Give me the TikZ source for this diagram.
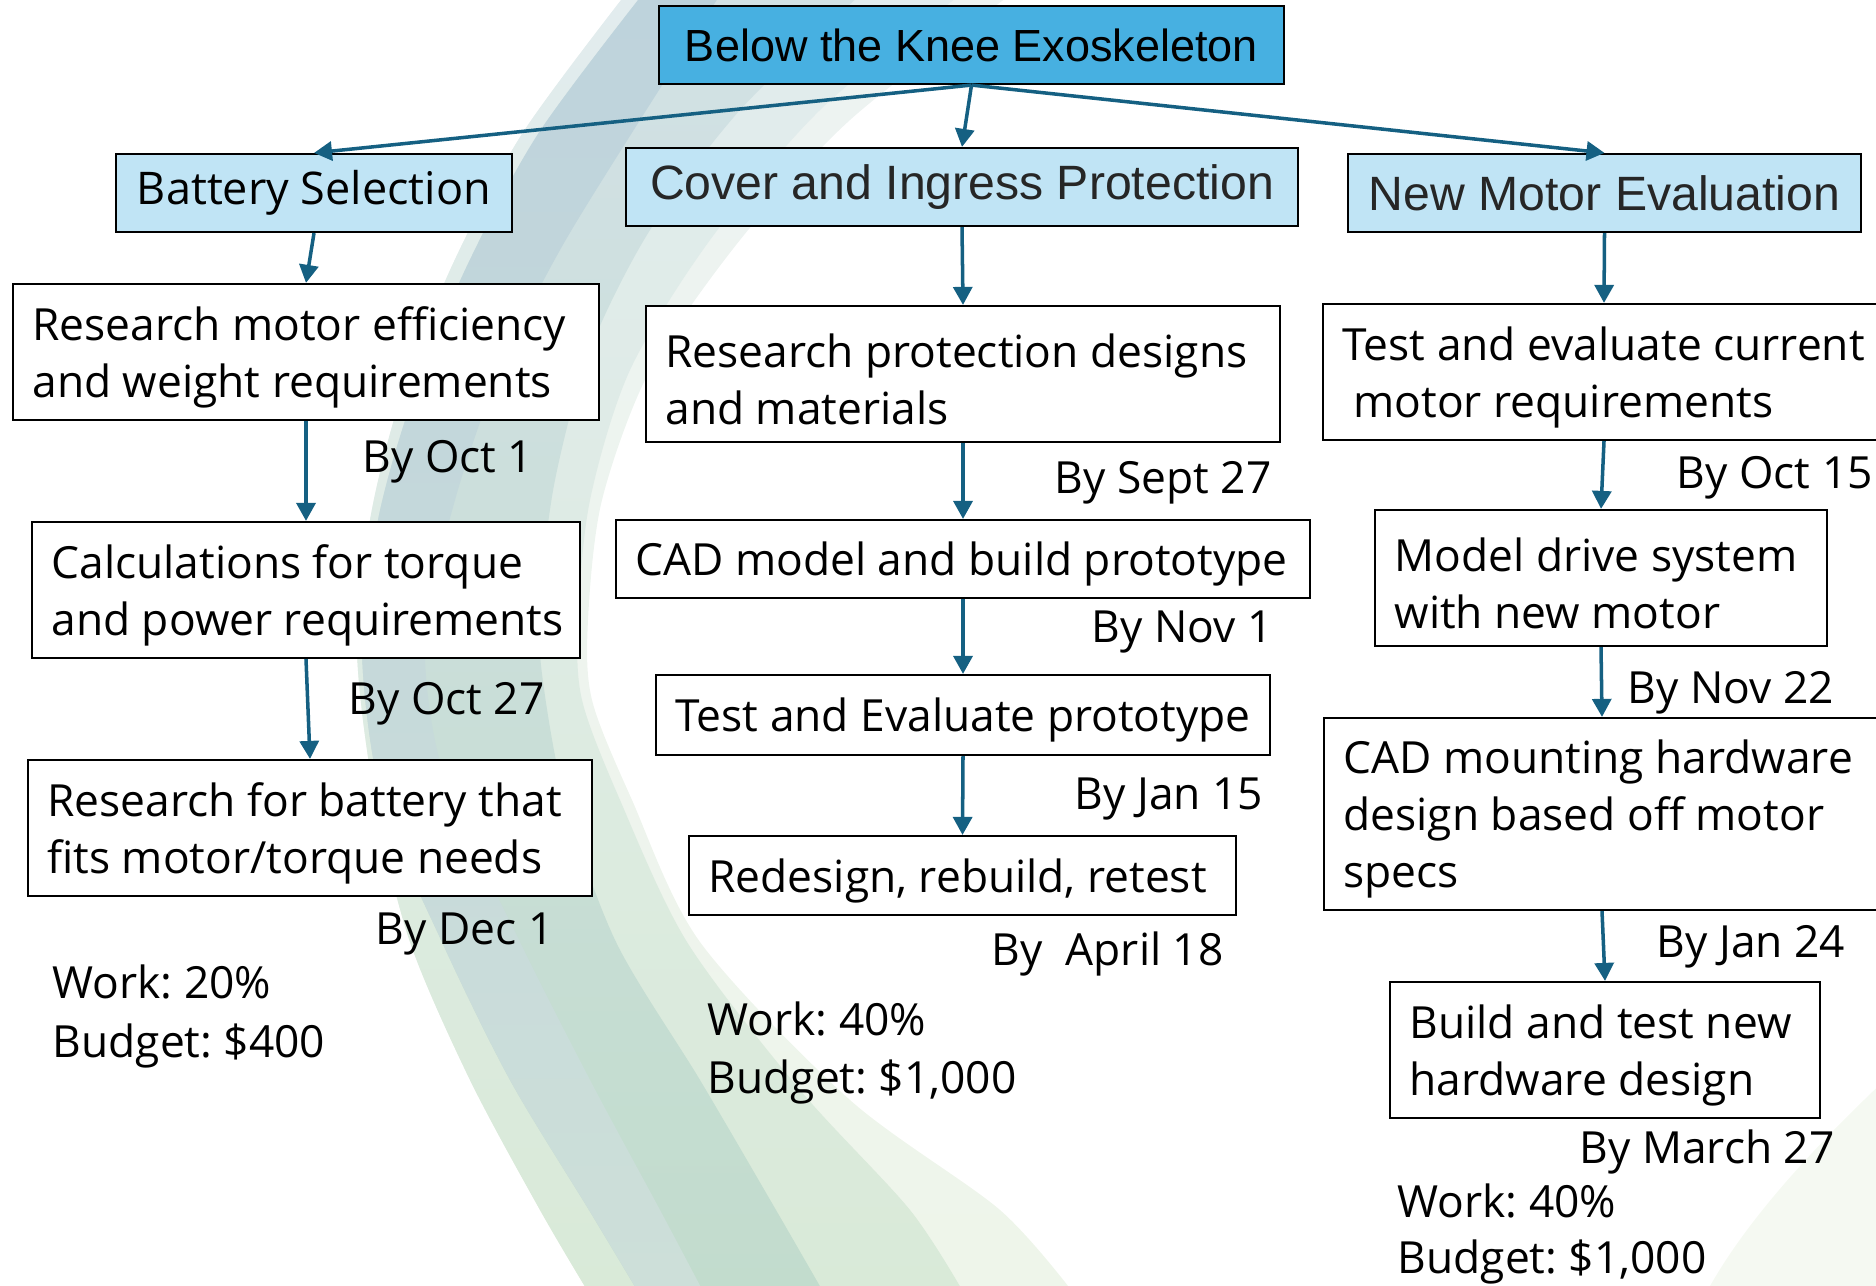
\documentclass[tikz,border=0pt]{standalone}
\usepackage{fontspec}
\setmainfont{Open Sans}
\newfontfamily\headfont{Liberation Sans}
\usetikzlibrary{arrows.meta}
\frenchspacing
\definecolor{linkblue}{RGB}{21,96,130}
\definecolor{rootblue}{RGB}{71,176,225}
\definecolor{groupblue}{RGB}{192,228,245}
% background wisp colours
\definecolor{wispA}{RGB}{237,243,242}
\definecolor{wispAb}{RGB}{238,245,234}
\definecolor{wispB}{RGB}{226,236,238}
\definecolor{wispBm}{RGB}{228,238,236}
\definecolor{wispBb}{RGB}{217,234,216}
\definecolor{wispC}{RGB}{210,225,229}
\definecolor{wispCm}{RGB}{211,227,226}
\definecolor{wispCb}{RGB}{194,220,205}
\definecolor{wispD}{RGB}{190,211,220}
\definecolor{wispDm}{RGB}{188,210,216}
\definecolor{wispDb}{RGB}{205,223,217}
\definecolor{wispF}{RGB}{245,249,242}
\newcommand{\taskfont}{\fontsize{12.6}{16.2}\selectfont}

\tikzset{
  root/.style={draw=black, line width=0.6pt, fill=rootblue, inner sep=0pt,
    minimum width=6.25cm, minimum height=0.78cm,
    font=\headfont\fontsize{12.8}{15}\selectfont},
  group/.style={draw=black, line width=0.6pt, fill=groupblue, inner sep=0pt,
    minimum height=0.78cm, text=black!85,
    font=\headfont\fontsize{13.7}{16}\selectfont},
  task/.style={draw=black, line width=0.6pt, fill=white, inner sep=0pt},
  tasktext/.style={anchor=west, align=left, inner xsep=0.2cm, inner ysep=0pt,
    yshift=-0.05cm, font=\taskfont},
  due/.style={anchor=base west, inner sep=0pt, font=\taskfont},
  link/.style={draw=linkblue, line width=1pt,
    -{Triangle[length=0.18cm,width=0.19cm]}},
}

\begin{document}
\begin{tikzpicture}[x=0.01cm,y=-0.01cm]
  \useasboundingbox (0,0) rectangle (1876,1285);

  % wisp in the background
  \shade[top color=wispA, bottom color=wispAb]
    plot[smooth] coordinates {(625,-5) (522,134) (451,268) (400,400) (370,520) (357,650) (375,800) (410,942) (470,1080) (540,1210) (590,1295)}
    -- plot[smooth] coordinates {(1075,1295) (1000,1210) (850,1100) (700,942) (632,800) (592,700) (588,620) (602,500) (650,370) (740,240) (850,120) (1010,-5)}
    -- cycle;
  \shade[top color=wispB, middle color=wispBm, bottom color=wispBb]
    plot[smooth] coordinates {(625,-5) (522,134) (451,268) (400,400) (370,520) (357,650) (375,800) (410,942) (470,1080) (540,1210) (590,1295)}
    -- plot[smooth] coordinates {(965,1295) (910,1210) (800,1090) (687,942) (620,800) (582,700) (578,620) (590,500) (630,370) (710,240) (820,110) (960,-5)}
    -- cycle;
  \shade[top color=wispC, middle color=wispCm, bottom color=wispCb]
    plot[smooth] coordinates {(642,-5) (538,134) (466,268) (412,400) (378,520) (362,650) (382,800) (442,942) (510,1080) (589,1210) (640,1295)}
    -- plot[smooth] coordinates {(825,1295) (776,1210) (700,1080) (616,942) (565,800) (542,674) (540,600) (555,480) (590,350) (650,230) (740,110) (860,-5)}
    -- cycle;
  \shade[top color=wispD, middle color=wispDm, bottom color=wispDb]
    plot[smooth] coordinates {(642,-5) (538,134) (466,268) (412,400) (378,520) (362,650) (382,800) (442,942) (510,1080) (589,1210) (640,1295)}
    -- plot[smooth] coordinates {(705,1295) (660,1210) (590,1080) (520,942) (445,780) (425,640) (455,500) (500,370) (560,250) (640,120) (720,-5)}
    -- cycle;
  \fill[wispF] (1890,1075) .. controls (1800,1160) and (1740,1230) .. (1705,1295) -- (1890,1295) -- cycle;

  % top of the tree
  \node[root] (knee) at (971.5,45) {Below the Knee Exoskeleton};
  \node[group, minimum width=3.96cm, text=black, font=\fontsize{12.8}{15}\selectfont] (bat) at (314,193) {Battery Selection};
  \node[group, minimum width=6.72cm] (cover) at (962,187) {Cover and Ingress Protection};
  \node[group, minimum width=5.13cm] (motor) at (1604.5,193) {New Motor Evaluation};

  % battery branch
  \node[task, minimum width=5.86cm, minimum height=1.36cm] (rme) at (306,352) {};
  \node[tasktext] (rme-t) at (rme.west) {Research motor efficiency\\and weight requirements};
  \node[task, minimum width=5.48cm, minimum height=1.36cm] (cpr) at (306,590) {};
  \node[tasktext] (cpr-t) at (cpr.west) {Calculations for torque\\and power requirements};
  \node[task, minimum width=5.64cm, minimum height=1.36cm] (rbt) at (310,828) {};
  \node[tasktext] (rbt-t) at (rbt.west) {Research for battery that\\fits motor/torque needs};

  \node[due] (d-rme) at (362,472) {By Oct 1};
  \node[due] (d-cpr) at (348,714) {By Oct 27};
  \node[due] (d-rbt) at (375,944) {By Dec 1};
  \node[due] (w-bat) at (52,998) {Work: 20\%};
  \node[due] (b-bat) at (52,1057) {Budget: \$400};

  % cover branch
  \node[task, minimum width=6.34cm, minimum height=1.36cm] (rpd) at (963,374) {};
  \node[tasktext] (rpd-t) at (rpd.west) {Research protection designs\\and materials};
  \node[task, minimum width=6.94cm, minimum height=0.78cm] (cad) at (963,559) {};
  \node[tasktext] (cad-t) at (cad.west) {CAD model and build prototype};
  \node[task, minimum width=6.14cm, minimum height=0.80cm] (tep) at (963,715) {};
  \node[tasktext] (tep-t) at (tep.west) {Test and Evaluate prototype};
  \node[task, minimum width=5.47cm, minimum height=0.79cm] (rrr) at (962.5,875.5) {};
  \node[tasktext] (rrr-t) at (rrr.west) {Redesign, rebuild, retest};

  \node[due] (d-rpd) at (1054,493) {By Sept 27};
  \node[due] (d-cad) at (1091,642) {By Nov 1};
  \node[due] (d-tep) at (1074,809) {By Jan 15};
  \node[due] (d-rrr) at (991,965) {By~~April 18};
  \node[due] (w-cov) at (707,1035) {Work: 40\%};
  \node[due] (b-cov) at (707,1093) {Budget: \$1,000};

  % motor branch
  \node[task, minimum width=5.62cm, minimum height=1.36cm] (tec) at (1604,372) {};
  \node[tasktext] (tec-t) at (tec.west) {Test and evaluate current\\\hspace*{0.25em}motor requirements};
  \node[task, minimum width=4.52cm, minimum height=1.36cm] (mds) at (1601,578) {};
  \node[tasktext] (mds-t) at (mds.west) {Model drive system\\with new motor};
  \node[task, minimum width=5.56cm, minimum height=1.92cm] (cmh) at (1602,814) {};
  \node[tasktext] (cmh-t) at (cmh.west) {CAD mounting hardware\\design based off motor\\specs};
  \node[task, minimum width=4.30cm, minimum height=1.36cm] (btn) at (1605,1050) {};
  \node[tasktext] (btn-t) at (btn.west) {Build and test new\\hardware design};

  \node[due] (d-tec) at (1676,488) {By Oct 15};
  \node[due] (d-mds) at (1627,703) {By Nov 22};
  \node[due] (d-cmh) at (1656,957) {By Jan 24};
  \node[due] (d-btn) at (1579,1163) {By March 27};
  \node[due] (w-mot) at (1397,1217) {Work: 40\%};
  \node[due] (b-mot) at (1397,1273) {Budget: \$1,000};

  % arrows
  \draw[link] (knee.south) -- (bat.north);
  \draw[link] (knee.south) -- (cover.north);
  \draw[link] (knee.south) -- (motor.north);
  \draw[link] (bat.south) -- (rme.north);
  \draw[link] (rme.south) -- (cpr.north);
  \draw[link] (cpr.south) -- (rbt.north);
  \draw[link] (cover.south) -- (rpd.north);
  \draw[link] (rpd.south) -- (cad.north);
  \draw[link] (cad.south) -- (tep.north);
  \draw[link] (tep.south) -- (rrr.north);
  \draw[link] (motor.south) -- (tec.north);
  \draw[link] (tec.south) -- (mds.north);
  \draw[link] (mds.south) -- (cmh.north);
  \draw[link] (cmh.south) -- (btn.north);
\end{tikzpicture}
\end{document}
